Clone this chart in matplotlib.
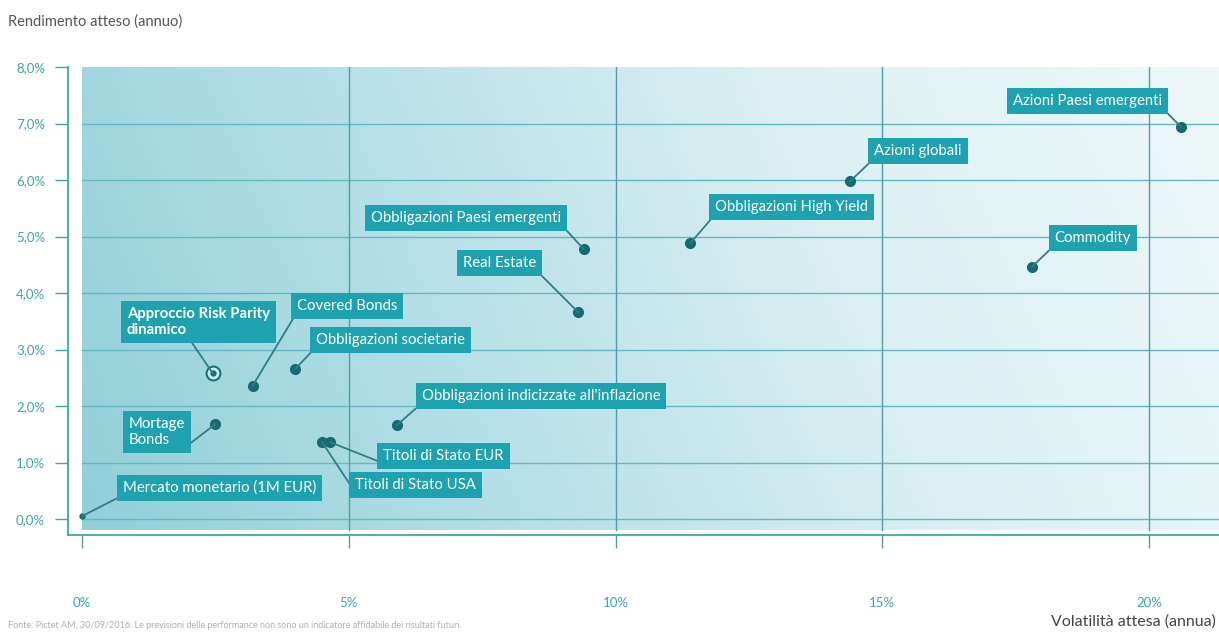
import numpy as np
import matplotlib.pyplot as plt
from matplotlib.colors import LinearSegmentedColormap

plt.rcParams['font.family'] = ['Lato', 'DejaVu Sans']

# data (volatility %, expected return %)
asset_names = [
    "Mercato monetario (1M EUR)",
    "Mortage\nBonds",
    "Approccio Risk Parity\ndinamico",
    "Covered Bonds",
    "Obbligazioni societarie",
    "Titoli di Stato USA",
    "Titoli di Stato EUR",
    "Obbligazioni indicizzate all'inflazione",
    "Real Estate",
    "Obbligazioni Paesi emergenti",
    "Obbligazioni High Yield",
    "Azioni globali",
    "Commodity",
    "Azioni Paesi emergenti",
]
volatility = [0.0, 2.5, 2.45, 3.2, 4.0, 4.5, 4.65, 5.9, 9.3, 9.4, 11.4, 14.4, 17.8, 20.6]
returns = [0.05, 1.68, 2.58, 2.36, 2.66, 1.36, 1.36, 1.66, 3.66, 4.78, 4.88, 5.98, 4.46, 6.94]

x_ticks = [0, 5, 10, 15, 20]
x_ticklabels = ["0%", "5%", "10%", "15%", "20%"]
y_ticks = [0, 1, 2, 3, 4, 5, 6, 7, 8]
y_ticklabels = ["0,0%", "1,0%", "2,0%", "3,0%", "4,0%", "5,0%", "6,0%", "7,0%", "8,0%"]

# label box placement: offset in pixels from the dot to the box corner, side, leader attach point
label_offsets = [(36, 16), (-25, -28), (62, 31), (39, 68), (16, 17), (28, -55), (48, -26),
                 (20, 17), (-37, 37), (-17, 19), (20, 24), (19, 18), (18, 17), (-14, 14)]
label_side = ['left', 'right', 'right', 'left', 'left', 'left', 'left',
              'left', 'right', 'right', 'left', 'left', 'left', 'right']
label_relpos = [(0, 0), (1, 0), (0.43, 0), (0, 0), (0, 0), (0, 0), (0, 0),
                (0, 0), (1, 0), (1, 0), (0, 0), (0, 0), (0, 0), (1, 0)]

teal = '#1ea2b0'
dark = '#176a74'
line_col = '#2e7e88'
axis_col = '#3aa8b2'

W, H = 1219, 633
fig = plt.figure(figsize=(W / 100, H / 100), dpi=100)
ax = fig.add_axes([68 / W, (H - 535) / H, (W - 68) / W, (535 - 67) / H])

xmin, xmax = -0.262, 21.31
ymin, ymax = -0.283, 8.0

# background gradient
cmap = LinearSegmentedColormap.from_list('bg', ['#92cfd9', '#b6e0e7', '#dcf0f3', '#eef8f9'])
gx, gy = np.meshgrid(np.linspace(0, 1, 300), np.linspace(0, 1, 100))
grad = 0.85 * gx + 0.15 * gy
ax.imshow(grad, extent=(0, xmax, -0.2, ymax), origin='lower', aspect='auto',
          cmap=cmap, zorder=0, interpolation='bicubic')

for yv in y_ticks[:-1]:
    ax.plot([0, xmax], [yv, yv], color='#62b9c3', lw=1.0, zorder=1)
for xv in x_ticks[1:]:
    ax.plot([xv, xv], [-0.2, ymax], color='#4f9ea7', lw=1.0, zorder=1)

ax.set_xlim(xmin, xmax)
ax.set_ylim(ymin, ymax)
for s in ['top', 'right']:
    ax.spines[s].set_visible(False)
for s in ['left', 'bottom']:
    ax.spines[s].set_color(axis_col)
    ax.spines[s].set_linewidth(1.3)

ax.set_xticks(x_ticks)
ax.set_xticklabels(x_ticklabels)
ax.set_yticks(y_ticks)
ax.set_yticklabels(y_ticklabels)
ax.tick_params(axis='y', length=9.5, width=1, color=axis_col, pad=7, labelsize=9.5, labelcolor='#3aa6b0')
ax.tick_params(axis='x', length=9.5, width=1, color='#4f9ea7', pad=35, labelsize=9.5, labelcolor='#3aa6b0')

pad_px = 5
for i, name in enumerate(asset_names):
    vx, ry = volatility[i], returns[i]
    if name.startswith("Approccio"):
        ax.plot(vx, ry, 'o', ms=10, mfc='#c9e9ee', mec=dark, mew=1.4, zorder=4)
        ax.plot(vx, ry, 'o', ms=3.5, color=dark, zorder=5)
    elif name.startswith("Mercato"):
        ax.plot(vx, ry, 'o', ms=3.5, color=dark, zorder=4)
    else:
        ax.plot(vx, ry, 'o', ms=7, color=dark, zorder=4)

    dx, dy = label_offsets[i]
    side = label_side[i]
    dx = dx + pad_px if side == 'left' else dx - pad_px
    dy = dy + pad_px
    bold = name.startswith("Approccio")
    ax.annotate(name, xy=(vx, ry), xytext=(dx, dy), textcoords='offset pixels',
                ha=side, va='bottom', multialignment='left', color='white', fontsize=10.7,
                fontweight='bold' if bold else 'normal', linespacing=1.2,
                bbox=dict(boxstyle='square,pad=0.4', fc=teal, ec='none'),
                arrowprops=dict(arrowstyle='-', color=line_col, lw=1.3,
                                relpos=label_relpos[i], shrinkA=0, shrinkB=0),
                zorder=6)

fig.text(8 / W, 1 - 22 / H, "Rendimento atteso (annuo)", fontsize=10.5, color='#555555', va='center')
fig.text(1216 / W, 1 - 622 / H, "Volatilità attesa (annua)", fontsize=11.5, color='#444444',
         ha='right', va='center')
fig.text(8 / W, 1 - 625 / H,
         "Fonte: Pictet AM, 30/09/2016. Le previsioni delle performance non sono un indicatore affidabile dei risultati futuri.",
         fontsize=6.5, color='#b0b0b0', va='center')

fig.savefig('out.png', dpi=100)
